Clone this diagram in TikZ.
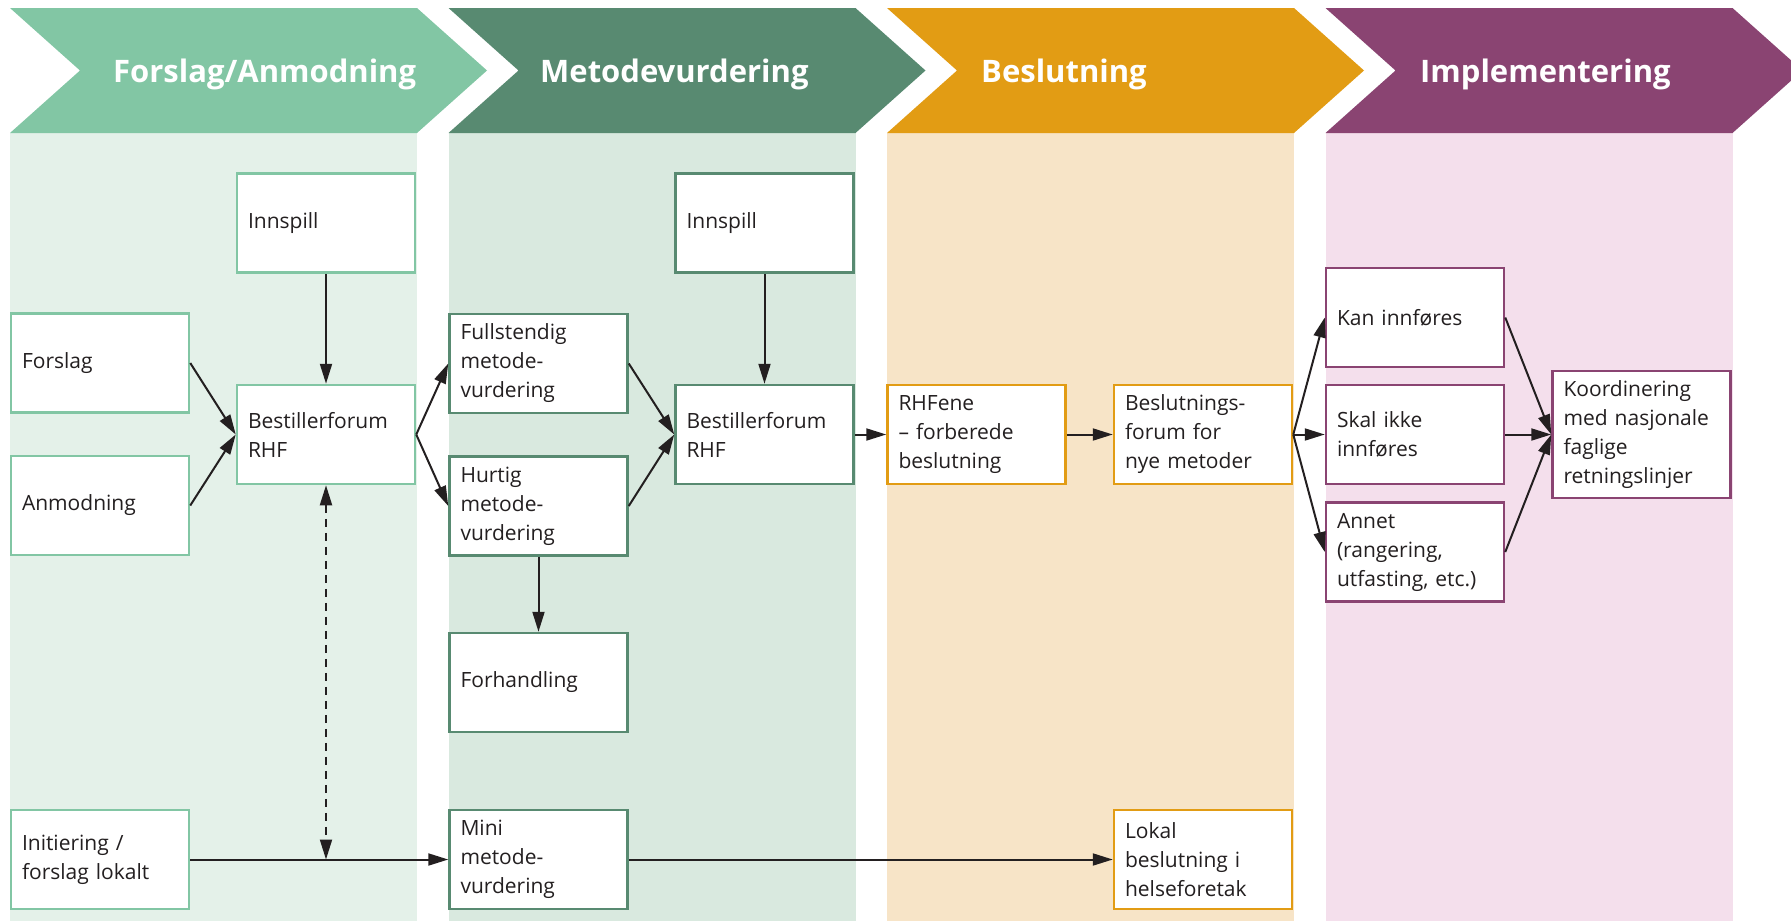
\documentclass[tikz,border=0pt]{standalone}
\usepackage{fontspec}
\setmainfont{Open Sans}
\usetikzlibrary{arrows.meta}
\definecolor{c1}{HTML}{82C6A4}
\definecolor{c2}{HTML}{588A71}
\definecolor{c3}{HTML}{E29C14}
\definecolor{c4}{HTML}{8A4472}
\definecolor{b1}{HTML}{E4F1E9}
\definecolor{b2}{HTML}{D9E9DF}
\definecolor{b3}{HTML}{F7E4C7}
\definecolor{b4}{HTML}{F4DFEC}
\definecolor{txt}{HTML}{231F20}
\tikzset{
  head/.style={anchor=base west, inner sep=0pt, text=white, font=\fontsize{31}{37}\selectfont\bfseries},
  box/.style={draw, line width=2.5pt, fill=white, minimum width=178pt, minimum height=99pt,
    text width=156pt, inner xsep=11pt, align=left, text=txt, font=\fontsize{21}{29}\selectfont},
  arr/.style={line width=2pt, draw=txt, -{Triangle[length=20pt,width=12pt]}},
  darr/.style={line width=2pt, draw=txt, dash pattern=on 8pt off 6pt,
    {Triangle[length=20pt,width=12pt]}-{Triangle[length=20pt,width=12pt]}}
}
\begin{document}
\begin{tikzpicture}[x=1pt,y=-1pt]
\useasboundingbox (0,0) rectangle (1791,921);
\begin{scope}
\clip (0,0) rectangle (1791,921);
\foreach \s/\c/\b in {10/c1/b1, 448.5/c2/b2, 887/c3/b3, 1325.5/c4/b4} {
  \fill[\b] (\s,133) rectangle ({\s+407},921);
  \fill[\c] (\s,8) -- ({\s+407},8) -- ({\s+477},70.5) -- ({\s+407},133) -- (\s,133) -- ({\s+70},70.5) -- cycle;
}
\end{scope}
\node[head] (h1) at (113,82) {Forslag/Anmodning};
\node[head] (h2) at (540,82) {Metodevurdering};
\node[head] (h3) at (981,82) {Beslutning};
\node[head] (h4) at (1420,82) {Implementering};
% column 1
\node[box, draw=c1] (inn1) at (326,223) {Innspill};
\node[box, draw=c1] (forslag) at (100,363) {Forslag};
\node[box, draw=c1] (anmod) at (100,505.5) {Anmodning};
\node[box, draw=c1] (bf1) at (326,434.5) {Bestillerforum\\RHF};
\node[box, draw=c1] (init) at (100,859.5) {Initiering /\\forslag lokalt};
% column 2
\node[box, draw=c2] (full) at (538.5,363.5) {Fullstendig\\metode-\\vurdering};
\node[box, draw=c2] (hurtig) at (538.5,506) {Hurtig\\metode-\\vurdering};
\node[box, draw=c2] (inn2) at (764.5,223) {Innspill};
\node[box, draw=c2] (bf2) at (764.5,434.5) {Bestillerforum\\RHF};
\node[box, draw=c2] (forh) at (538.5,682.5) {Forhandling};
\node[box, draw=c2] (mini) at (538.5,859.5) {Mini\\metode-\\vurdering};
% column 3
\node[box, draw=c3] (rhf) at (976.5,434.5) {RHFene\\– forberede\\beslutning};
\node[box, draw=c3] (besl) at (1203,434.5) {Beslutnings-\\forum for\\nye metoder};
\node[box, draw=c3] (lokal) at (1203,859.5) {Lokal\\beslutning i\\helseforetak};
% column 4
\node[box, draw=c4] (kan) at (1415,317.5) {Kan innføres};
\node[box, draw=c4] (skal) at (1415,434.5) {Skal ikke\\innføres};
\node[box, draw=c4] (annet) at (1415,552) {Annet\\(rangering,\\utfasting, etc.)};
\node[box, draw=c4, minimum height=127pt] (koord) at (1641.5,434.5) {Koordinering\\med nasjonale\\faglige\\retningslinjer};
% connectors
\draw[arr] (inn1) -- (bf1);
\draw[arr] (forslag.east) -- (bf1.west);
\draw[arr] (anmod.east) -- (bf1.west);
\draw[arr] (bf1.east) -- (full.west);
\draw[arr] (bf1.east) -- (hurtig.west);
\draw[arr] (full.east) -- (bf2.west);
\draw[arr] (hurtig.east) -- (bf2.west);
\draw[arr] (inn2) -- (bf2);
\draw[arr] (hurtig) -- (forh);
\draw[arr] (bf2) -- (rhf);
\draw[arr] (rhf) -- (besl);
\draw[arr] (besl.east) -- (kan.west);
\draw[arr] (besl.east) -- (skal.west);
\draw[arr] (besl.east) -- (annet.west);
\draw[arr] (kan.east) -- (koord.west);
\draw[arr] (skal.east) -- (koord.west);
\draw[arr] (annet.east) -- (koord.west);
\draw[arr] (init) -- (mini);
\draw[arr] (mini) -- (lokal);
\coordinate (dj) at (bf1.south |- init.east);
\draw[darr] (bf1.south) -- (dj);
\end{tikzpicture}
\end{document}
